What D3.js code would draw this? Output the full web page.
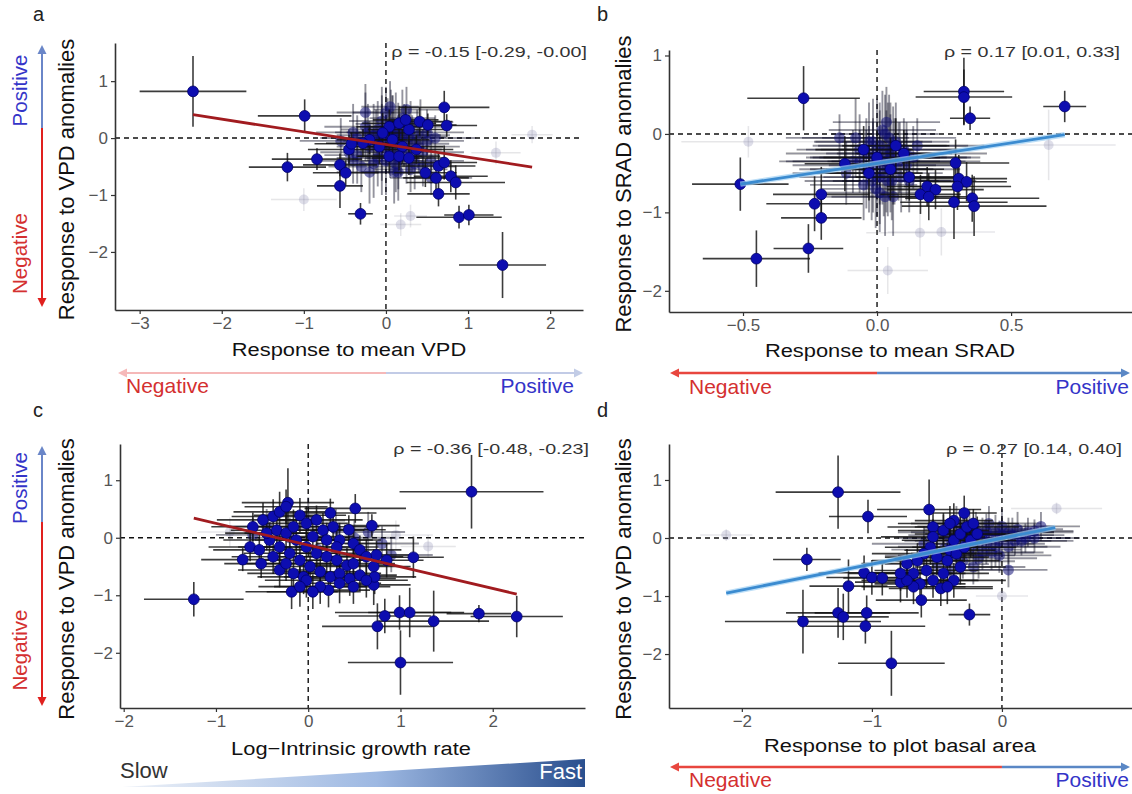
<!DOCTYPE html>
<html>
<head>
<meta charset="utf-8">
<script src="https://cdn.jsdelivr.net/npm/d3@7"></script>
<style>
  body { margin: 0; background: #fff; }
  svg text { font-family: "Liberation Sans", Arial, sans-serif; }
</style>
</head>
<body>
<svg id="chart" width="1132" height="794"></svg>
<script>
// ---------- data: [x, y, x half-error, y half-error] ----------
const aSig = [
  [-2.35, 0.82, 0.65, 0.62], [-0.99, 0.39, 0.57, 0.29], [-1.20, -0.51, 0.47, 0.25],
  [-0.84, -0.37, 0.55, 0.19], [-0.56, -0.47, 0.45, 0.20], [-0.49, -0.61, 0.40, 0.22],
  [-0.56, -0.84, 0.28, 0.39], [-0.31, -1.33, 0.15, 0.19], [-0.45, -0.20, 0.50, 0.25],
  [-0.42, -0.10, 0.45, 0.20], [0.71, 0.54, 0.55, 0.29], [0.74, 0.22, 0.37, 0.20],
  [0.41, 0.29, 0.40, 0.25], [0.51, 0.23, 0.35, 0.20], [0.48, -0.61, 0.38, 0.25],
  [0.61, -0.70, 0.40, 0.30], [0.64, -0.98, 0.38, 0.22], [0.64, -0.49, 0.45, 0.22],
  [0.71, -0.43, 0.40, 0.30], [0.79, -0.67, 0.45, 0.28], [0.85, -0.78, 0.60, 0.30],
  [0.89, -1.39, 0.52, 0.20], [1.01, -1.35, 0.30, 0.18], [1.42, -2.23, 0.53, 0.58],
  [0.04, 0.20, 0.40, 0.30], [0.16, 0.26, 0.45, 0.30], [0.28, 0.15, 0.50, 0.25],
  [-0.04, 0.09, 0.40, 0.35], [0.08, -0.03, 0.45, 0.30], [0.20, -0.15, 0.50, 0.30],
  [0.37, -0.20, 0.45, 0.25], [0.04, -0.32, 0.40, 0.30], [-0.08, -0.15, 0.35, 0.30],
  [0.16, -0.32, 0.50, 0.25], [0.28, -0.35, 0.45, 0.30], [-0.20, -0.03, 0.40, 0.25],
  [-0.28, -0.09, 0.45, 0.25], [0.24, 0.32, 0.40, 0.25]
];
const aCloud = [
  [-0.55, -0.05, 0.50, 0.40], [-0.40, 0.10, 0.45, 0.50], [-0.35, -0.30, 0.40, 0.50],
  [-0.25, 0.20, 0.50, 0.60], [-0.20, -0.15, 0.40, 0.45], [-0.15, 0.05, 0.45, 0.55],
  [-0.10, -0.35, 0.50, 0.50], [-0.05, 0.30, 0.40, 0.60], [0.00, -0.10, 0.45, 0.50],
  [0.02, 0.10, 0.50, 0.60], [0.05, -0.25, 0.40, 0.45], [0.08, 0.25, 0.45, 0.50],
  [0.10, -0.05, 0.50, 0.55], [0.12, -0.45, 0.45, 0.50], [0.15, 0.12, 0.40, 0.50],
  [0.18, -0.20, 0.50, 0.45], [0.22, 0.05, 0.45, 0.55], [0.25, -0.30, 0.40, 0.50],
  [0.30, 0.20, 0.50, 0.45], [0.32, -0.10, 0.45, 0.50], [0.38, 0.05, 0.40, 0.45],
  [0.45, -0.25, 0.50, 0.40], [0.50, 0.10, 0.45, 0.40], [0.55, -0.40, 0.40, 0.35],
  [-0.30, -0.50, 0.40, 0.45], [-0.45, -0.25, 0.35, 0.40], [0.00, 0.45, 0.40, 0.45],
  [-0.10, 0.15, 0.45, 0.50], [0.15, -0.60, 0.45, 0.50], [0.08, 0.05, 0.50, 0.70],
  [-0.05, -0.20, 0.45, 0.80], [0.20, 0.35, 0.40, 0.50], [0.35, -0.45, 0.45, 0.45],
  [0.60, 0.00, 0.50, 0.40], [-0.20, -0.60, 0.40, 0.55], [0.42, 0.28, 0.40, 0.40],
  [0.55, -0.70, 0.50, 0.30], [-0.25, 0.45, 0.35, 0.50], [-0.15, -0.45, 0.40, 0.60],
  [0.05, 0.55, 0.35, 0.45], [0.25, 0.50, 0.40, 0.40], [0.10, -0.60, 0.40, 0.55],
  [-0.35, 0.00, 0.45, 0.40], [0.30, -0.55, 0.45, 0.40], [0.45, -0.50, 0.40, 0.35],
  [-0.05, 0.00, 0.40, 0.75], [0.12, 0.10, 0.45, 0.70], [0.18, -0.08, 0.40, 0.60],
  [0.00, -0.40, 0.45, 0.60], [-0.12, -0.05, 0.40, 0.55], [0.28, 0.02, 0.45, 0.50],
  [0.40, -0.15, 0.50, 0.45], [-0.22, 0.10, 0.40, 0.50], [0.06, 0.20, 0.35, 0.65],
  [0.15, -0.35, 0.40, 0.55], [-0.40, -0.40, 0.40, 0.40], [0.50, -0.05, 0.45, 0.35]
];
const aFaint = [
  [1.78, 0.06, 0.25, 0.15], [1.34, -0.26, 0.30, 0.20], [0.18, -1.52, 0.25, 0.20],
  [0.30, -1.37, 0.20, 0.20], [-1.00, -1.08, 0.40, 0.20]
];
const aFit = [[-2.35, 0.41], [1.78, -0.51]];

const bSig = [
  [-0.274, 0.455, 0.21, 0.41], [-0.51, -0.64, 0.18, 0.34], [-0.45, -1.59, 0.20, 0.36],
  [-0.256, -1.46, 0.13, 0.31], [-0.208, -0.77, 0.18, 0.35], [-0.233, -0.89, 0.18, 0.35],
  [-0.208, -1.07, 0.15, 0.28], [-0.12, -0.38, 0.15, 0.35], [0.324, 0.54, 0.15, 0.43],
  [0.324, 0.47, 0.18, 0.35], [0.347, 0.20, 0.075, 0.15], [0.70, 0.35, 0.08, 0.20],
  [0.293, -0.37, 0.20, 0.30], [0.305, -0.57, 0.18, 0.30], [0.334, -0.61, 0.15, 0.25],
  [0.30, -0.67, 0.20, 0.30], [0.162, -0.77, 0.15, 0.25], [0.187, -0.67, 0.15, 0.25],
  [0.218, -0.71, 0.18, 0.25], [0.193, -0.80, 0.15, 0.30], [0.287, -0.87, 0.20, 0.47],
  [0.355, -0.82, 0.25, 0.30], [0.362, -0.92, 0.27, 0.38],
  [0.00, -0.30, 0.20, 0.35], [0.05, -0.45, 0.20, 0.40], [0.10, -0.25, 0.18, 0.30],
  [-0.03, -0.50, 0.20, 0.35], [0.12, -0.55, 0.20, 0.30], [0.07, -0.15, 0.20, 0.35],
  [-0.05, -0.20, 0.18, 0.30]
];
const bCloud = [
  [-0.09, -0.35, 0.25, 0.40], [-0.065, -0.20, 0.20, 0.45], [-0.04, -0.45, 0.25, 0.50],
  [-0.03, -0.10, 0.20, 0.50], [-0.015, -0.30, 0.25, 0.45], [0.00, -0.55, 0.20, 0.50],
  [0.01, -0.15, 0.25, 0.55], [0.02, -0.40, 0.20, 0.50], [0.03, 0.00, 0.20, 0.50],
  [0.04, -0.60, 0.25, 0.45], [0.05, -0.25, 0.20, 0.50], [0.06, -0.45, 0.25, 0.45],
  [0.07, -0.10, 0.20, 0.50], [0.08, -0.35, 0.25, 0.50], [0.09, -0.55, 0.20, 0.45],
  [0.10, -0.20, 0.25, 0.40], [0.11, -0.40, 0.20, 0.45], [0.12, -0.60, 0.25, 0.40],
  [0.135, -0.30, 0.20, 0.40], [-0.05, -0.65, 0.20, 0.45], [0.01, -0.75, 0.20, 0.50],
  [-0.08, -0.05, 0.20, 0.50], [0.035, 0.15, 0.20, 0.45], [0.06, -0.80, 0.25, 0.50],
  [-0.115, -0.50, 0.20, 0.40], [0.15, -0.15, 0.25, 0.35], [-0.015, -0.40, 0.30, 0.60],
  [0.05, -0.30, 0.30, 0.70], [-0.14, -0.05, 0.20, 0.30],
  [-0.015, -0.10, 0.22, 0.55], [0.01, -0.30, 0.25, 0.60], [0.025, -0.50, 0.22, 0.55],
  [0.04, -0.20, 0.25, 0.60], [0.055, -0.60, 0.22, 0.50], [-0.005, -0.70, 0.20, 0.50],
  [0.065, -0.35, 0.25, 0.55], [-0.03, -0.45, 0.22, 0.55], [0.02, 0.05, 0.20, 0.50],
  [0.045, -0.05, 0.25, 0.55], [-0.04, -0.25, 0.30, 0.45], [0.085, -0.30, 0.30, 0.45],
  [-0.065, -0.35, 0.30, 0.40], [0.11, -0.25, 0.30, 0.40], [0.01, -0.55, 0.30, 0.60],
  [0.035, -0.35, 0.35, 0.65], [0.00, -0.20, 0.30, 0.65], [0.06, -0.15, 0.28, 0.50],
  [0.03, -0.80, 0.20, 0.50], [-0.02, -0.60, 0.25, 0.50]
];
const bFaint = [
  [-0.48, -0.10, 0.25, 0.20], [0.04, -1.74, 0.15, 0.30], [0.16, -1.26, 0.20, 0.30],
  [0.24, -1.25, 0.20, 0.30], [0.64, -0.14, 0.25, 0.45]
];
const bFit = [[-0.51, -0.64], [0.70, -0.01]];

const cSig = [
  [1.77, 0.80, 0.78, 0.64], [-1.24, -1.07, 0.54, 0.30], [1.00, -2.17, 0.57, 0.56],
  [0.75, -1.54, 0.60, 0.40], [0.83, -1.36, 0.50, 0.30], [0.99, -1.30, 0.70, 0.30],
  [1.10, -1.30, 0.45, 0.43], [1.36, -1.45, 0.60, 0.53], [1.85, -1.32, 0.35, 0.15],
  [2.26, -1.37, 0.50, 0.36], [1.14, -0.34, 0.33, 0.36], [0.51, 0.51, 0.55, 0.25],
  [0.24, 0.43, 0.50, 0.25], [0.69, 0.21, 0.30, 0.20], [0.44, 0.14, 0.40, 0.25],
  [-0.22, 0.61, 0.50, 0.60], [-0.71, -0.38, 0.45, 0.20], [-0.51, -0.45, 0.40, 0.25],
  [-0.18, -0.94, 0.50, 0.30], [0.22, -0.91, 0.45, 0.30], [0.71, -0.82, 0.40, 0.35],
  [0.72, -0.68, 0.45, 0.30], [-0.05, -0.68, 0.50, 0.30],
  [-0.60, 0.19, 0.45, 0.25], [-0.49, 0.31, 0.50, 0.30], [-0.38, 0.37, 0.45, 0.30],
  [-0.31, 0.45, 0.50, 0.35], [-0.24, 0.54, 0.45, 0.30], [-0.09, 0.39, 0.50, 0.30],
  [-0.02, 0.25, 0.45, 0.30], [0.09, 0.31, 0.50, 0.25], [0.16, 0.13, 0.45, 0.30],
  [0.27, 0.19, 0.50, 0.25], [0.34, -0.04, 0.45, 0.30], [0.49, -0.10, 0.40, 0.30],
  [0.56, -0.21, 0.45, 0.25], [0.63, -0.33, 0.40, 0.30], [0.74, -0.30, 0.45, 0.25],
  [0.85, -0.39, 0.40, 0.30], [-0.42, -0.04, 0.50, 0.30], [-0.31, -0.16, 0.45, 0.35],
  [-0.20, -0.27, 0.50, 0.30], [-0.09, -0.39, 0.45, 0.30], [0.02, -0.50, 0.50, 0.35],
  [0.13, -0.59, 0.45, 0.30], [0.24, -0.68, 0.50, 0.30], [0.34, -0.62, 0.45, 0.25],
  [0.45, -0.71, 0.50, 0.30], [0.56, -0.65, 0.40, 0.30], [-0.31, -0.56, 0.45, 0.30],
  [-0.16, -0.62, 0.50, 0.35], [-0.02, -0.74, 0.45, 0.30], [0.13, -0.85, 0.50, 0.30],
  [0.34, -0.79, 0.45, 0.35], [0.49, -0.85, 0.40, 0.30], [0.63, -0.74, 0.45, 0.30],
  [-0.63, -0.16, 0.45, 0.25], [-0.53, -0.21, 0.50, 0.30], [-0.38, -0.33, 0.45, 0.30],
  [-0.24, -0.45, 0.50, 0.30], [-0.13, -0.04, 0.45, 0.35], [-0.02, -0.16, 0.50, 0.30],
  [0.09, -0.27, 0.45, 0.30], [0.20, -0.33, 0.50, 0.35], [0.31, -0.39, 0.45, 0.30],
  [0.42, -0.48, 0.50, 0.30], [-0.45, 0.08, 0.45, 0.30], [-0.34, 0.13, 0.50, 0.30],
  [-0.24, 0.08, 0.45, 0.35], [-0.16, 0.19, 0.50, 0.30], [0.05, 0.02, 0.45, 0.30],
  [0.20, -0.04, 0.50, 0.30], [0.31, -0.16, 0.45, 0.30], [0.49, -0.45, 0.45, 0.30],
  [0.71, -0.50, 0.40, 0.30], [-0.09, -0.85, 0.45, 0.35], [0.05, -0.94, 0.50, 0.30]
];
const cCloud = [
  [-0.60, 0.05, 0.40, 0.30], [0.50, 0.00, 0.45, 0.30], [0.80, -0.10, 0.40, 0.30],
  [0.30, 0.15, 0.45, 0.35], [-0.20, 0.00, 0.45, 0.35], [0.10, -0.20, 0.40, 0.30],
  [0.65, 0.10, 0.40, 0.35], [-0.45, 0.20, 0.40, 0.30], [0.90, -0.30, 0.45, 0.30],
  [0.00, 0.30, 0.40, 0.40]
];
const cFaint = [
  [1.30, -0.15, 0.30, 0.20], [0.95, 0.05, 0.40, 0.25], [-0.85, 0.10, 0.35, 0.25]
];
const cFit = [[-1.24, 0.34], [2.26, -0.98]];

const dSig = [
  [-1.26, 0.79, 0.48, 0.63], [-1.03, 0.37, 0.30, 0.29], [-1.50, -0.37, 0.26, 0.20],
  [-1.18, -0.83, 0.30, 0.46], [-1.06, -0.60, 0.35, 0.30], [-1.00, -0.68, 0.35, 0.30],
  [-0.92, -0.69, 0.30, 0.30], [-0.78, -0.76, 0.35, 0.35], [-1.26, -1.29, 0.40, 0.43],
  [-1.22, -1.36, 0.35, 0.40], [-1.53, -1.44, 0.60, 0.55], [-1.04, -1.29, 0.40, 0.30],
  [-1.05, -1.52, 0.46, 0.30], [-0.85, -2.16, 0.41, 0.56], [-0.62, -1.07, 0.35, 0.30],
  [-0.25, -1.32, 0.16, 0.19], [-0.56, 0.49, 0.40, 0.52], [-0.29, 0.43, 0.25, 0.30],
  [-0.37, 0.30, 0.30, 0.30], [-0.53, 0.19, 0.35, 0.30],
  [-0.73, -0.44, 0.35, 0.25], [-0.68, -0.61, 0.40, 0.30], [-0.63, -0.79, 0.35, 0.30],
  [-0.58, -0.56, 0.40, 0.30], [-0.53, -0.73, 0.35, 0.30], [-0.47, -0.87, 0.40, 0.30],
  [-0.45, -0.61, 0.35, 0.30], [-0.42, -0.39, 0.40, 0.30], [-0.40, -0.21, 0.35, 0.30],
  [-0.37, -0.04, 0.40, 0.25], [-0.32, 0.07, 0.35, 0.30], [-0.27, 0.19, 0.40, 0.30],
  [-0.22, 0.25, 0.35, 0.25], [-0.50, -0.33, 0.40, 0.30], [-0.55, -0.16, 0.35, 0.30],
  [-0.60, -0.27, 0.40, 0.30], [-0.65, -0.39, 0.35, 0.30], [-0.53, 0.02, 0.40, 0.30],
  [-0.45, 0.13, 0.35, 0.30], [-0.40, 0.25, 0.40, 0.30], [-0.35, -0.27, 0.35, 0.30],
  [-0.29, -0.16, 0.40, 0.25], [-0.24, -0.04, 0.35, 0.30], [-0.19, 0.07, 0.40, 0.30],
  [-0.32, -0.50, 0.35, 0.30], [-0.37, -0.73, 0.40, 0.30], [-0.42, -0.84, 0.35, 0.30],
  [-0.68, -0.84, 0.40, 0.30], [-0.73, -0.73, 0.35, 0.30], [-0.78, -0.61, 0.40, 0.30]
];
const dCloud = [
  [-0.50, -0.30, 0.40, 0.30], [-0.45, 0.10, 0.35, 0.30], [-0.40, -0.15, 0.40, 0.35],
  [-0.35, 0.25, 0.35, 0.30], [-0.30, -0.40, 0.40, 0.30], [-0.28, 0.00, 0.45, 0.35],
  [-0.25, -0.20, 0.40, 0.30], [-0.20, 0.15, 0.40, 0.30], [-0.18, -0.35, 0.45, 0.35],
  [-0.15, 0.05, 0.40, 0.30], [-0.12, -0.10, 0.45, 0.35], [-0.10, 0.25, 0.40, 0.30],
  [-0.08, -0.25, 0.40, 0.30], [-0.05, 0.10, 0.45, 0.30], [-0.02, -0.05, 0.40, 0.35],
  [0.00, 0.20, 0.40, 0.30], [0.05, -0.15, 0.40, 0.30], [0.08, 0.05, 0.40, 0.30],
  [0.12, 0.15, 0.35, 0.30], [0.15, -0.05, 0.40, 0.25], [0.20, 0.10, 0.35, 0.25],
  [0.25, 0.00, 0.35, 0.25], [-0.35, -0.05, 0.40, 0.35], [-0.22, -0.50, 0.40, 0.30],
  [-0.60, -0.10, 0.40, 0.30], [0.30, 0.20, 0.30, 0.25], [0.05, -0.55, 0.30, 0.30],
  [-0.40, 0.00, 0.40, 0.30], [-0.30, 0.10, 0.40, 0.30], [-0.20, -0.10, 0.45, 0.35],
  [-0.10, 0.00, 0.40, 0.30], [0.00, 0.05, 0.40, 0.30], [-0.25, 0.20, 0.40, 0.30],
  [-0.15, -0.25, 0.40, 0.30], [-0.05, -0.15, 0.40, 0.35], [-0.35, -0.30, 0.45, 0.30],
  [-0.45, -0.20, 0.40, 0.30], [0.05, 0.10, 0.35, 0.25], [-0.12, 0.12, 0.40, 0.30],
  [-0.22, -0.05, 0.45, 0.30], [-0.32, 0.05, 0.40, 0.35], [0.10, -0.05, 0.40, 0.25],
  [-0.02, -0.30, 0.40, 0.30], [-0.50, -0.45, 0.40, 0.30], [-0.40, -0.55, 0.40, 0.30],
  [0.18, 0.00, 0.35, 0.25], [0.25, 0.12, 0.30, 0.20]
];
const dFaint = [
  [-2.12, 0.05, 0.20, 0.10], [0.42, 0.51, 0.35, 0.10], [0.00, -1.00, 0.20, 0.15]
];
const dFit = [[-2.12, -0.95], [0.41, 0.18]];

const panelTags = ["a", "b", "c", "d"];
const xTitles = ["Response to mean VPD", "Response to mean SRAD",
                 "Log\u2212Intrinsic growth rate", "Response to plot basal area"];
const yTitles = ["Response to VPD anomalies", "Response to SRAD anomalies",
                 "Response to VPD anomalies", "Response to VPD anomalies"];
const rhoLabels = ["\u03c1 = -0.15 [-0.29, -0.00]", "\u03c1 = 0.17 [0.01, 0.33]",
                   "\u03c1 = -0.36 [-0.48, -0.23]", "\u03c1 = 0.27 [0.14, 0.40]"];
const xTicksA = [-3, -2, -1, 0, 1, 2];
const xTicksB = [-0.5, 0, 0.5];
const xTicksC = [-2, -1, 0, 1, 2];
const xTicksD = [-2, -1, 0];
const yTicks = [-2, -1, 0, 1];

// ---------- layout ----------
const svg = d3.select("#chart");
const RED = "#a11b1f", BLUE = "#3b8bd0";
const POS = "#3434c8", NEG = "#d43030";

const defs = svg.append("defs");
defs.append("filter").attr("id", "soft").attr("x", "-10%").attr("y", "-10%")
  .attr("width", "120%").attr("height", "120%")
  .append("feGaussianBlur").attr("stdDeviation", 0.6);

const panels = [
  { left: 115, right: 583, top: 43, bottom: 310, xd: [-3.30, 2.40], yd: [-3.02, 1.67],
    xt: xTicksA, fmt: d3.format("d"), sig: aSig, cloud: aCloud, faint: aFaint, fit: aFit,
    fitColor: RED, tag: [33, 21], xtPos: [349, 351], ytX: 68, rho: [587, 53] },
  { left: 669, right: 1132, top: 50, bottom: 312, xd: [-0.776, 0.951], yd: [-2.27, 1.07],
    xt: xTicksB, fmt: d3.format(".1f"), sig: bSig, cloud: bCloud, faint: bFaint, fit: bFit,
    fitColor: BLUE, tag: [597, 21], xtPos: [890, 352], ytX: 625, rho: [1120, 53] },
  { left: 120, right: 585, top: 444, bottom: 708, xd: [-2.04, 3.0], yd: [-2.96, 1.63],
    xt: xTicksC, fmt: d3.format("d"), sig: cSig, cloud: cCloud, faint: cFaint, fit: cFit,
    fitColor: RED, tag: [33, 417], xtPos: [351, 750], ytX: 68, rho: [589, 450] },
  { left: 669, right: 1132, top: 444, bottom: 708, xd: [-2.56, 1.0], yd: [-2.93, 1.62],
    xt: xTicksD, fmt: d3.format("d"), sig: dSig, cloud: dCloud, faint: dFaint, fit: dFit,
    fitColor: BLUE, tag: [597, 417], xtPos: [900, 747], ytX: 625, rho: [1122, 450] }
];

// horizontally stretched text (the source figure is wider than tall)
function htext(g, x, y, txt, size, anchor, sx) {
  return g.append("text")
    .attr("transform", `translate(${x},${y}) scale(${sx},1)`)
    .attr("text-anchor", anchor).attr("dominant-baseline", "middle")
    .attr("font-size", size).text(txt);
}

function crosses(g, data, x, y, stroke, op, width) {
  const sel = g.selectAll("g").data(data).join("g");
  sel.append("line").attr("x1", d => x(d[0] - d[2])).attr("x2", d => x(d[0] + d[2]))
    .attr("y1", d => y(d[1])).attr("y2", d => y(d[1]))
    .attr("stroke", stroke).attr("stroke-opacity", op).attr("stroke-width", width);
  sel.append("line").attr("x1", d => x(d[0])).attr("x2", d => x(d[0]))
    .attr("y1", d => y(d[1] - d[3])).attr("y2", d => y(d[1] + d[3]))
    .attr("stroke", stroke).attr("stroke-opacity", op).attr("stroke-width", width);
  return sel;
}

function drawPanel(p, i) {
  const x = d3.scaleLinear().domain(p.xd).range([p.left, p.right]);
  const y = d3.scaleLinear().domain(p.yd).range([p.bottom, p.top]);
  const g = svg.append("g");

  // zero reference lines
  g.append("line").attr("x1", p.left).attr("x2", p.right).attr("y1", y(0)).attr("y2", y(0))
    .attr("stroke", "#111").attr("stroke-width", 1.4).attr("stroke-dasharray", "5,4");
  g.append("line").attr("x1", x(0)).attr("x2", x(0)).attr("y1", p.top).attr("y2", p.bottom)
    .attr("stroke", "#111").attr("stroke-width", 1.4).attr("stroke-dasharray", "5,4");

  // faint, isolated non-significant species
  const fg = g.append("g").attr("filter", "url(#soft)");
  crosses(fg, p.faint, x, y, "#667", 0.16, 1.5);
  fg.selectAll("circle").data(p.faint).join("circle")
    .attr("cx", d => x(d[0])).attr("cy", d => y(d[1])).attr("r", 5)
    .attr("fill", "#8a8ab0").attr("fill-opacity", 0.28);

  // non significant species: dense cloud
  const cg = g.append("g").attr("filter", "url(#soft)");
  crosses(cg, p.cloud, x, y, "#05051a", 0.42, 1.9);
  cg.selectAll("circle").data(p.cloud).join("circle")
    .attr("cx", d => x(d[0])).attr("cy", d => y(d[1])).attr("r", 5.5)
    .attr("fill", "#12127a").attr("fill-opacity", 0.55);

  // significant species
  crosses(g.append("g"), p.sig, x, y, "#111", 0.82, 1.6);
  g.append("g").selectAll("circle").data(p.sig).join("circle")
    .attr("cx", d => x(d[0])).attr("cy", d => y(d[1])).attr("r", 5.4)
    .attr("fill", "#0d0db0").attr("stroke", "#00006a").attr("stroke-width", 0.8);

  // regression line (blue fits carry a light halo)
  const line = d3.line().x(d => x(d[0])).y(d => y(d[1]));
  if (p.fitColor === BLUE) {
    g.append("path").datum(p.fit).attr("d", line)
      .attr("stroke", "#9fd0f4").attr("stroke-width", 5.5).attr("fill", "none").attr("opacity", 0.7);
  }
  g.append("path").datum(p.fit).attr("d", line)
    .attr("stroke", p.fitColor).attr("stroke-width", 2.8).attr("fill", "none");

  // axes
  const ax = g.append("g").attr("transform", `translate(0,${p.bottom})`)
    .call(d3.axisBottom(x).tickValues(p.xt).tickFormat(p.fmt).tickSize(4).tickSizeOuter(0).tickPadding(3));
  const ay = g.append("g").attr("transform", `translate(${p.left},0)`)
    .call(d3.axisLeft(y).tickValues(yTicks).tickFormat(d3.format("d")).tickSize(4).tickSizeOuter(0).tickPadding(3));
  [ax, ay].forEach(a => {
    a.select(".domain").attr("stroke", "#333").attr("stroke-width", 1.6);
    a.selectAll(".tick line").attr("stroke", "#333").attr("stroke-width", 1.2);
    a.selectAll(".tick text").attr("fill", "#555").attr("font-size", 17)
      .attr("font-family", "Liberation Sans, Arial, sans-serif");
  });

  // titles and labels
  htext(g, p.xtPos[0], p.xtPos[1], xTitles[i], 19, "middle", 1.15).attr("fill", "#111");
  g.append("text").attr("transform", `translate(${p.ytX},${(p.top + p.bottom) / 2 + 3}) rotate(-90)`)
    .attr("text-anchor", "middle").attr("dominant-baseline", "middle")
    .attr("font-size", 22).attr("fill", "#111").text(yTitles[i]);
  g.append("text").attr("x", p.tag[0]).attr("y", p.tag[1])
    .attr("font-size", 20).attr("fill", "#222").text(panelTags[i]);
  htext(g, p.rho[0], p.rho[1], rhoLabels[i], 14.5, "end", 1.36)
    .attr("font-family", "DejaVu Sans, sans-serif").attr("fill", "#333");

  return { x, y };
}

const scales = panels.map(drawPanel);

// ---------- direction guides ----------
function arrow(x1, y1, x2, y2, color, w, op) {
  const ang = Math.atan2(y2 - y1, x2 - x1), L = 9, hw = 4.5;
  const bx = x2 - L * Math.cos(ang), by = y2 - L * Math.sin(ang);
  svg.append("line").attr("x1", x1).attr("y1", y1).attr("x2", bx).attr("y2", by)
    .attr("stroke", color).attr("stroke-width", w).attr("opacity", op);
  svg.append("path")
    .attr("d", `M${x2},${y2}L${bx - hw * Math.sin(ang)},${by + hw * Math.cos(ang)}L${bx + hw * Math.sin(ang)},${by - hw * Math.cos(ang)}Z`)
    .attr("fill", color).attr("opacity", op);
}
function label(txt, x, y, color, anchor, rot, size) {
  const t = svg.append("text").attr("font-family", "Lato, sans-serif").attr("font-size", size)
    .attr("fill", color).attr("text-anchor", anchor).attr("dominant-baseline", "middle").text(txt);
  if (rot) t.attr("transform", `translate(${x},${y}) rotate(-90)`);
  else t.attr("x", x).attr("y", y);
}

// vertical guides (panels a, c)
[[45, 128, 307], [446, 522, 706]].forEach(([top, mid, bot]) => {
  arrow(42, mid, 42, top, "#6a86c8", 2, 1);
  arrow(42, mid, 42, bot, "#e0201e", 2, 1);
  label("Positive", 22, (top + mid) / 2 + 4, POS, "middle", true, 20.5);
  label("Negative", 22, (mid + bot) / 2 + 36, NEG, "middle", true, 20.5);
});

// panel a horizontal guide (faded)
arrow(386, 373, 118, 373, "#f08a8a", 2, 0.6);
arrow(386, 373, 583, 373, "#9aaad6", 2, 0.6);
label("Negative", 126, 387, NEG, "start", false, 21);
label("Positive", 574, 387, POS, "end", false, 21);

// panels b, d horizontal guides
[[scales[1], 373, 388], [scales[3], 767, 781]].forEach(([s, yy, ty]) => {
  arrow(s.x(0), yy, 670, yy, "#e8463e", 2.6, 1);
  arrow(s.x(0), yy, 1130, yy, "#5a87c5", 2.6, 1);
  label("Negative", 689, ty, NEG, "start", false, 21);
  label("Positive", 1129, ty, POS, "end", false, 21);
});

// panel c growth wedge
const grad = defs.append("linearGradient").attr("id", "wedge");
grad.append("stop").attr("offset", "0%").attr("stop-color", "#eef2f8");
grad.append("stop").attr("offset", "55%").attr("stop-color", "#9db8e2");
grad.append("stop").attr("offset", "100%").attr("stop-color", "#2a4f8e");
svg.append("path").attr("d", "M122,787L585,759L585,787Z").attr("fill", "url(#wedge)");
label("Slow", 120, 772, "#333", "start", false, 22);
label("Fast", 582, 773, "#fff", "end", false, 22);
</script>
</body>
</html>
